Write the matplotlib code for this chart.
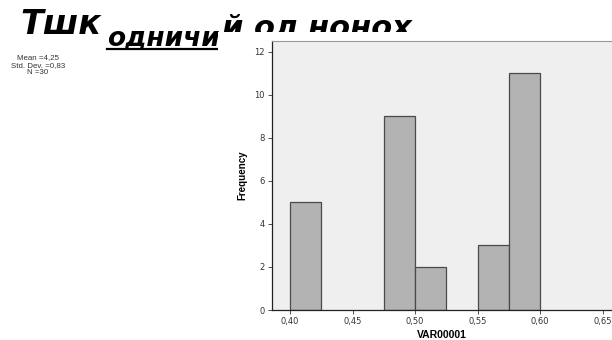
import matplotlib
matplotlib.use("Agg")
import matplotlib.pyplot as plt
from matplotlib.patches import Rectangle
from matplotlib.lines import Line2D

bin_left = [0.400, 0.475, 0.500, 0.550, 0.575]
counts = [5, 9, 2, 3, 11]
bin_width = 0.025
xticks = [0.40, 0.45, 0.50, 0.55, 0.60, 0.65]
xtick_labels = ["0,40", "0,45", "0,50", "0,55", "0,60", "0,65"]
yticks = [0, 2, 4, 6, 8, 10, 12]
stats_lines = ["Mean =4,25", "Std. Dev. =0,83", "N =30"]

W, H = 612, 340
fig = plt.figure(figsize=(W / 100, H / 100), dpi=100)
fig.patch.set_facecolor("white")

def fx(px):
    return px / W

def fy(py):
    return 1 - py / H

# handwritten-like title, partially hidden by chart image
tkw = dict(family="DejaVu Sans", style="italic", fontweight="bold", color="black", zorder=-3)
fig.text(fx(20), fy(34), "Тшк", fontsize=24, va="baseline", ha="left", **tkw)
fig.text(fx(107), fy(45), "одничи", fontsize=19, va="baseline", ha="left", **tkw)
fig.add_artist(Line2D([fx(107), fx(218)], [fy(49), fy(49)], color="black", lw=1.6, zorder=-3))
fig.text(fx(222), fy(37), "й ол нонох", fontsize=22, va="baseline", ha="left", **tkw)

# white chart image covering lower part of the title
fig.add_artist(Rectangle((fx(218), 0), 1 - fx(218), fy(32), transform=fig.transFigure,
                         facecolor="white", edgecolor="none", zorder=-1))

# stats text
for i, s in enumerate(stats_lines):
    fig.text(fx(38), fy(58 + i * 7.5), s, fontsize=5.7, ha="center", va="center",
             family="Liberation Sans", color="#333333")

ax = fig.add_axes([fx(272), fy(310), fx(612) - fx(272), fy(41) - fy(310)])
ax.set_facecolor("#efefef")
ax.bar(bin_left, counts, width=bin_width, align="edge", color="#b3b3b3",
       edgecolor="#4a4a4a", linewidth=0.9)
ax.set_xlim(0.3856, 0.6576)
ax.set_ylim(0, 12.5)
ax.set_xticks(xticks)
ax.set_xticklabels(xtick_labels)
ax.set_yticks(yticks)
ax.tick_params(labelsize=6, length=3, width=0.6, color="#333333", labelcolor="#333333", pad=2)
for side in ["left", "bottom"]:
    ax.spines[side].set_color("#222222")
    ax.spines[side].set_linewidth(0.9)
ax.spines["top"].set_color("#999999")
ax.spines["top"].set_linewidth(0.8)
ax.spines["right"].set_visible(False)
ax.set_xlabel("VAR00001", fontsize=7.5, fontweight="bold", family="Liberation Sans", labelpad=3)
ax.set_ylabel("Frequency", fontsize=7, fontweight="bold", family="Liberation Sans", labelpad=5)

fig.savefig("out.png", dpi=100)
